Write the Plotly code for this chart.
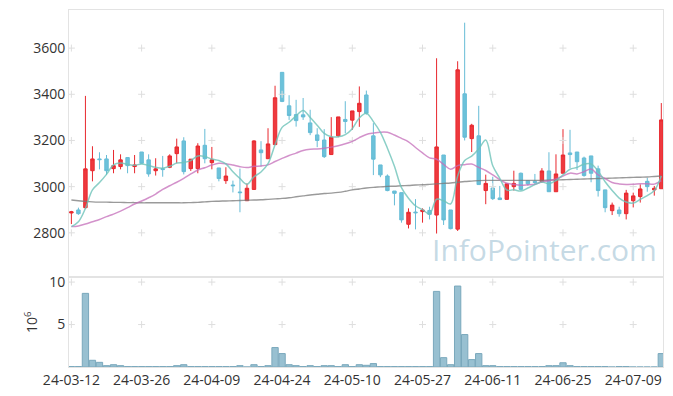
import plotly.graph_objects as go
from plotly.subplots import make_subplots
import pandas as pd

dates = (
    ["2024-03-%02d" % d for d in [12, 13, 14, 15, 18, 19, 20, 21, 22, 25, 26, 27, 28, 29]]
    + ["2024-04-%02d" % d for d in [1, 2, 3, 4, 5, 8, 9, 11, 12, 15, 16, 17, 18, 19, 22, 23, 24, 25, 26, 29, 30]]
    + ["2024-05-%02d" % d for d in [2, 3, 7, 8, 9, 10, 13, 14, 16, 17, 20, 21, 22, 23, 24, 27, 28, 29, 30, 31]]
    + ["2024-06-%02d" % d for d in [3, 4, 5, 7, 10, 11, 12, 13, 14, 17, 18, 19, 20, 21, 24, 25, 26, 27, 28]]
    + ["2024-07-%02d" % d for d in [1, 2, 3, 4, 5, 8, 9, 10, 11, 12, 15]]
)

open_ = [2886, 2899, 2909, 3069, 3120, 3120, 3078, 3087, 3126, 3087,
         3150, 3116, 3069, 3078, 3084, 3143, 3198, 3078, 3078, 3179,
         3104, 3081, 3026, 3007, 2977, 2939, 2988, 3159, 3121, 3182,
         3495, 3350, 3312, 3311, 3276, 3224, 3202, 3139, 3220, 3291,
         3288, 3325, 3397, 3220, 3094, 3046, 2981, 2974, 2837, 2890,
         2892, 2897, 2877, 3137, 2899, 2816, 3402, 3208, 3220, 2983,
         2994, 2951, 2945, 3000, 3058, 3026, 3023, 3022, 3068, 2978,
         3058, 3146, 3150, 3124, 3133, 3077, 2986, 2896, 2899, 2883,
         2939, 2957, 3023, 2986, 2991]
high = [2895, 2909, 3393, 3175, 3149, 3137, 3159, 3140, 3126, 3137,
        3150, 3140, 3123, 3133, 3140, 3208, 3214, 3119, 3188, 3250,
        3172, 3081, 3084, 3026, 3078, 3014, 3201, 3197, 3253, 3437,
        3495, 3396, 3376, 3384, 3333, 3253, 3249, 3301, 3302, 3370,
        3328, 3434, 3416, 3275, 3094, 3053, 2981, 2974, 2906, 2946,
        2906, 2913, 3556, 3137, 2899, 3543, 3710, 3272, 3350, 3052,
        3043, 3003, 3014, 3069, 3061, 3026, 3055, 3080, 3149, 3140,
        3249, 3246, 3150, 3130, 3133, 3091, 2986, 2931, 2913, 2986,
        2974, 3010, 3038, 3003, 3362]
low = [2838, 2878, 2905, 3023, 3075, 3051, 3058, 3075, 3058, 3058,
       3098, 3043, 3048, 3043, 3080, 3101, 3053, 3068, 3058, 3101,
       3075, 3023, 3012, 2975, 2889, 2939, 2986, 3087, 3121, 3182,
       3366, 3289, 3260, 3289, 3223, 3171, 3124, 3139, 3214, 3231,
       3246, 3259, 3312, 3050, 3041, 2980, 2919, 2844, 2819, 2815,
       2844, 2858, 2797, 2834, 2815, 2808, 3200, 3150, 3009, 2924,
       2942, 2942, 2945, 2983, 2983, 3004, 3007, 3017, 2978, 2978,
       3058, 3080, 3072, 3043, 3019, 2957, 2889, 2877, 2870, 2858,
       2910, 2931, 2978, 2961, 2991]
close = [2891, 2883, 3077, 3120, 3117, 3069, 3091, 3116, 3091, 3094,
         3101, 3055, 3077, 3074, 3133, 3172, 3065, 3119, 3176, 3121,
         3116, 3035, 3046, 3004, 2974, 2993, 3198, 3147, 3185, 3385,
         3369, 3308, 3286, 3302, 3234, 3200, 3130, 3214, 3302, 3282,
         3328, 3361, 3318, 3119, 3051, 2983, 2971, 2856, 2889, 2887,
         2899, 2880, 3172, 2856, 2818, 3506, 3214, 3266, 3009, 3014,
         2948, 2944, 3012, 3014, 2988, 3012, 3018, 3068, 2978, 3055,
         3137, 3139, 3108, 3048, 3058, 2983, 2909, 2920, 2883, 2972,
         2960, 2990, 3000, 2993, 3289]
# volume in millions of shares
volume = [0.05, 0.05, 8.67, 0.79, 0.55, 0.16, 0.27, 0.16, 0.05, 0.05,
          0.05, 0.05, 0.05, 0.05, 0.05, 0.16, 0.27, 0.05, 0.05, 0.05,
          0.05, 0.05, 0.05, 0.05, 0.16, 0.0, 0.27, 0.05, 0.16, 2.29,
          1.58, 0.27, 0.16, 0.05, 0.16, 0.05, 0.16, 0.16, 0.05, 0.27,
          0.05, 0.27, 0.2, 0.4, 0.05, 0.05, 0.05, 0.05, 0.05, 0.05,
          0.05, 0.05, 8.9, 1.1, 0.27, 9.53, 3.82, 0.87, 1.58, 0.16,
          0.16, 0.05, 0.05, 0.05, 0.05, 0.05, 0.05, 0.05, 0.16, 0.16,
          0.5, 0.16, 0.05, 0.05, 0.05, 0.05, 0.05, 0.0, 0.05, 0.05,
          0.0, 0.0, 0.0, 0.0, 1.58]

# moving-average values before enough in-window history exists
ma5_head = [2827, 2848, 2906, 2986]
ma20_head = [2827, 2830, 2838, 2848, 2858, 2870, 2881, 2894, 2909, 2925,
             2938, 2952, 2968, 2988, 3004, 3019, 3036, 3055, 3072]
ma60 = [2942, 2939, 2936, 2934, 2933, 2933, 2932, 2932, 2931, 2931,
        2930, 2930, 2930, 2930, 2930, 2930, 2930, 2931, 2932, 2934,
        2936, 2937, 2938, 2939, 2940, 2941, 2942, 2943, 2945, 2947,
        2949, 2952, 2956, 2960, 2964, 2967, 2970, 2972, 2975, 2980,
        2986, 2990, 2994, 2997, 2999, 3001, 3002, 3004, 3005, 3007,
        3008, 3010, 3012, 3014, 3016, 3019, 3022, 3024, 3026, 3027,
        3027, 3027, 3027, 3027, 3027, 3027, 3027, 3027, 3028, 3029,
        3030, 3031, 3032, 3033, 3034, 3035, 3036, 3037, 3038, 3039,
        3040, 3041, 3042, 3044, 3046]

price_ticks = [2800, 3000, 3200, 3400, 3600]
vol_ticks = [5, 10]
tick_every = 10

s = pd.Series(close, dtype=float)
ma5 = ma5_head + s.rolling(5).mean().tolist()[len(ma5_head):]
ma20 = ma20_head + s.rolling(20).mean().tolist()[len(ma20_head):]

fig = make_subplots(rows=2, cols=1, shared_xaxes=True, vertical_spacing=0,
                    row_heights=[0.749, 0.251])

tick_dates = dates[::tick_every]
tick_text = [d[2:] for d in tick_dates]

fig.add_trace(go.Candlestick(
    x=dates, open=open_, high=high, low=low, close=close,
    increasing=dict(line=dict(color="#e8282e", width=1), fillcolor="#ee3a3f"),
    decreasing=dict(line=dict(color="#66bcd6", width=1), fillcolor="#6cc2da"),
    whiskerwidth=0, hoverinfo="skip", showlegend=False), row=1, col=1)

fig.add_trace(go.Bar(x=dates, y=volume, marker=dict(color="#98c0d1", line=dict(color="#7aa8bc", width=1)),
                     hoverinfo="skip", showlegend=False), row=2, col=1)

# grid "+" marks
gx, gy = [], []
for d in tick_dates:
    for v in price_ticks:
        gx.append(d); gy.append(v)
fig.add_trace(go.Scatter(x=gx, y=gy, mode="markers",
                         marker=dict(symbol="cross-thin", size=5, line=dict(color="#dedede", width=1)),
                         hoverinfo="skip", showlegend=False), row=1, col=1)
vx, vy = [], []
for d in tick_dates:
    for v in vol_ticks:
        vx.append(d); vy.append(v)
fig.add_trace(go.Scatter(x=vx, y=vy, mode="markers",
                         marker=dict(symbol="cross-thin", size=5, line=dict(color="#dedede", width=1)),
                         hoverinfo="skip", showlegend=False), row=2, col=1)

fig.add_trace(go.Scatter(x=dates, y=ma60, mode="lines", line=dict(color="rgba(120,120,120,0.75)", width=1.4, shape="spline"),
                         hoverinfo="skip", showlegend=False), row=1, col=1)
fig.add_trace(go.Scatter(x=dates, y=ma20, mode="lines", line=dict(color="rgba(196,110,186,0.75)", width=1.5, shape="spline"),
                         hoverinfo="skip", showlegend=False), row=1, col=1)
fig.add_trace(go.Scatter(x=dates, y=ma5, mode="lines", line=dict(color="rgba(110,195,185,0.8)", width=1.5, shape="spline"),
                         hoverinfo="skip", showlegend=False), row=1, col=1)

axis_font = dict(family="Open Sans, Noto Sans, sans-serif", size=14, color="#333333")

fig.update_xaxes(type="category", categoryorder="array", categoryarray=dates,
                 range=[-0.34, 84.24], showgrid=False, zeroline=False, automargin=False,
                 showline=True, linecolor="#e3e3e3", linewidth=1, mirror=True,
                 rangeslider=dict(visible=False), ticks="", tickfont=axis_font, tickangle=0,
                 tickmode="array", tickvals=tick_dates, ticktext=tick_text)
fig.update_xaxes(showticklabels=False, row=1, col=1)
fig.update_yaxes(showgrid=False, zeroline=False, showline=True, linecolor="#e3e3e3", linewidth=1,
                 mirror=True, ticks="", tickfont=axis_font, automargin=False)
fig.update_yaxes(range=[2607, 3765], tickvals=price_ticks, row=1, col=1)
fig.update_yaxes(range=[0, 10.55], tickvals=vol_ticks, row=2, col=1,
                 title=dict(text="10<sup>6</sup>", font=axis_font, standoff=8))

fig.add_annotation(text="InfoPointer.com", xref="paper", yref="paper", x=0.993, y=0.33,
                   xanchor="right", yanchor="middle", showarrow=False,
                   font=dict(family="Open Sans, sans-serif", size=30, color="rgba(160,194,212,0.6)"))

# page body adds an 8px offset, so the figure is sized to sit inside the window
fig.update_layout(width=665, height=388, margin=dict(l=61.3, r=10.3, t=2.3, b=29.3, autoexpand=False),
                  plot_bgcolor="white", paper_bgcolor="white", bargap=0.1,
                  hovermode=False, showlegend=False)

fig.write_html("out.html")
